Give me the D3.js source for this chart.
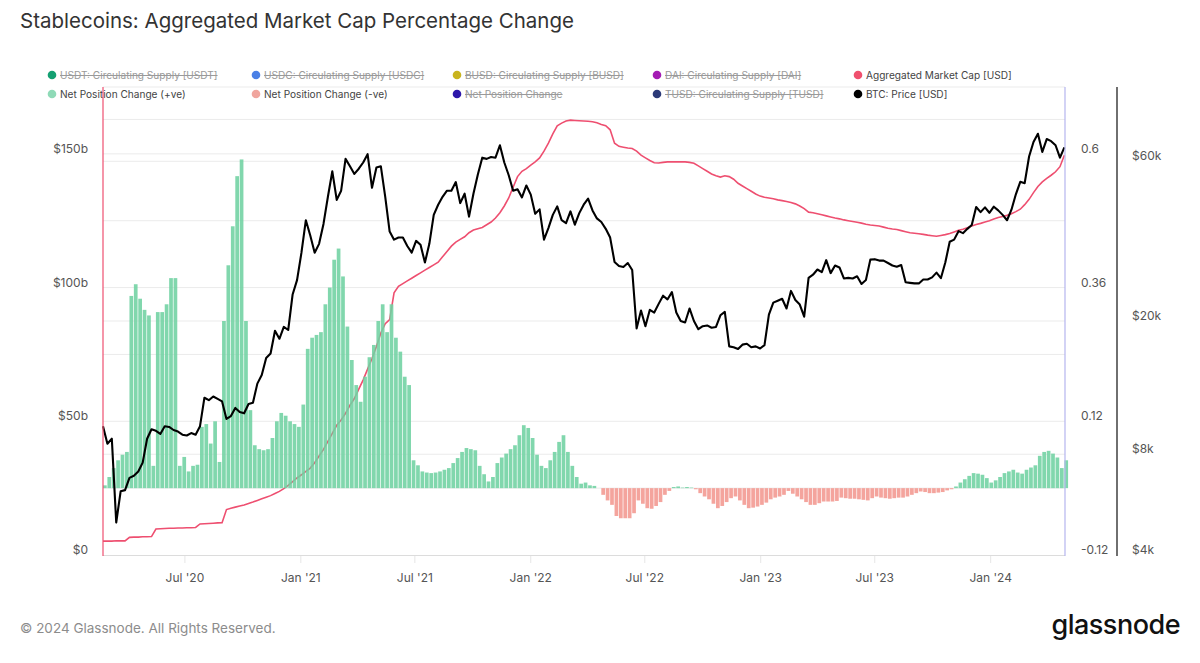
<!DOCTYPE html>
<html><head><meta charset="utf-8">
<script src="https://cdn.jsdelivr.net/npm/d3@7"></script>
<style>
body{margin:0;background:#fff;}
svg{font-family:Inter,"Noto Sans",sans-serif;}
</style></head><body>
<svg id="c" width="1200" height="663"></svg>
<script>
// ---------- DATA (weekly samples, starting 2020-02-22) ----------
const startDate = "2020-02-22";
const endDate = "2024-04-28";
const stepDays = 7;

// BTC: Price [USD]
const btcPrice = [
 9700, 8600, 8900, 5000, 6200, 6250, 6800, 6900, 7100, 7550,
 8900, 9500, 9400, 9200, 9700, 9650, 9450, 9350, 9150, 9100,
 9250, 9150, 9700, 11800, 11600, 11900, 11700, 11500, 10200, 10400,
 11000, 10700, 10600, 11300, 11400, 13000, 13800, 15500, 16000, 18700,
 17700, 19200, 18800, 24000, 26500, 32000, 40000, 36000, 32000, 34000,
 39000, 47000, 56000, 46000, 49000, 61000, 58000, 55000, 57000, 59500,
 63000, 50000, 57500, 58000, 47000, 37000, 35000, 35500, 35500, 33500,
 32000, 34700, 33800, 29900, 34000, 41500, 44500, 47000, 49000, 49000,
 52000, 45000, 48000, 41000, 48000, 54800, 61500, 61000, 61800, 61500,
 67000, 59500, 54500, 49000, 49500, 46800, 50800, 47700, 41800, 43100,
 35000, 37900, 41500, 44000, 40000, 39200, 42500, 38800, 42000, 44500,
 46400, 42800, 40500, 39500, 37700, 35500, 30000, 29200, 29000, 29800,
 28400, 19000, 21500, 19300, 21600, 21200, 22500, 23800, 23200, 24400,
 21200, 20000, 19800, 21800, 20000, 18900, 19300, 19400, 19100, 19200,
 20800, 21300, 16800, 16700, 16500, 17000, 17100, 16700, 16800, 16550,
 16950, 20900, 22700, 23000, 23300, 21800, 24600, 23100, 22400, 20600,
 26900, 27500, 28500, 28000, 30400, 27800, 29300, 28900, 26800, 26900,
 26800, 27200, 25800, 26500, 30500, 30600, 30300, 30300, 29800, 29300,
 29050, 29400, 26100, 26000, 25900, 25900, 26600, 26600, 27000, 27900,
 26850, 29900, 34500, 35000, 37100, 36600, 37700, 38700, 43800, 42300,
 43700, 42100, 43900, 42800, 41500, 40000, 43000, 47800, 52100, 51600,
 62000, 68500, 72500, 64000, 69900, 68900, 67000, 61500, 66000
];

// Aggregated Market Cap [USD], billions
const marketCapB = [
 5.2,5.2,5.2,5.3,5.3,5.3,6.6,6.7,6.7,6.8,
 6.8,6.9,9.7,9.8,9.9,10.0,10.0,10.1,10.1,10.2,
 10.2,10.3,11.6,11.7,11.8,11.9,12.0,12.1,17.0,17.5,
 17.9,18.3,18.7,19.3,19.8,20.4,21.0,21.6,22.2,23.0,
 23.8,24.8,26.0,27.4,28.8,30.0,31.3,32.5,34.5,37.0,
 39.5,42.5,45.5,48.5,50.5,53.0,56.0,58.5,62.0,65.5,
 69.5,73.5,78.0,83.0,86.5,88.0,98.0,100.5,101.5,102.5,
 103.5,104.5,105.5,106.5,107.5,108.5,109.5,111.5,113.5,115.5,
 117,118,119,120.5,121.5,122,122.5,123.5,124.5,126,
 128,130.5,133.5,137.5,141.5,143.5,144.5,145.8,147,148.5,
 151,154,157.5,160.5,161.5,162.3,162.6,162.5,162.4,162.3,
 162.2,162,161.6,161,160.5,159,154,152.8,152.5,152.2,
 152,151,149.5,148.5,147.5,146.7,146.6,146.8,147,147,
 147,147,147,146.8,146.5,145.5,144.5,143.5,142.5,141.8,
 141.3,141.8,141.5,140.5,139,138,137,136,135,134.2,
 133.8,133.5,133.2,132.8,132.5,132.2,131.8,131.3,130.5,129.5,
 128.2,128,127.6,127.2,126.8,126.4,126,125.7,125.3,125,
 124.7,124.4,124.1,123.7,123.4,123.2,123,122.6,122.2,121.9,
 121.7,121.3,120.9,120.5,120.3,120.1,119.9,119.6,119.4,119.2,
 119.5,119.8,120.2,120.8,121.4,121.8,122.4,123,123.6,124,
 124.5,125,125.6,126.2,126.6,127,127.6,128.4,129.3,131,
 133,135.5,137.8,139.5,140.8,142,143.3,145.2,149.5
];

// Net Position Change (30d % change of aggregated market cap)
const netPositionChange = [
 0.005,0.02,0.036,0.05,0.06,0.065,0.345,0.366,0.34,0.32,
 0.31,0.04,0.316,0.316,0.33,0.377,0.377,0.04,0.056,0.03,
 0.04,0.042,0.11,0.115,0.08,0.12,0.047,0.30,0.40,0.47,
 0.56,0.59,0.30,0.14,0.077,0.07,0.068,0.07,0.09,0.12,
 0.135,0.13,0.12,0.115,0.11,0.15,0.25,0.27,0.275,0.28,
 0.33,0.36,0.41,0.43,0.38,0.29,0.23,0.185,0.155,0.2,
 0.235,0.257,0.30,0.33,0.28,0.33,0.27,0.245,0.20,0.185,
 0.05,0.041,0.03,0.028,0.027,0.028,0.03,0.033,0.036,0.045,
 0.054,0.065,0.072,0.07,0.068,0.04,0.025,0.012,0.02,0.045,
 0.055,0.062,0.07,0.077,0.095,0.113,0.108,0.09,0.06,0.04,
 0.036,0.05,0.065,0.083,0.095,0.065,0.04,0.02,0.008,0.01,
 0.005,0.004,0.0,-0.012,-0.022,-0.03,-0.05,-0.054,-0.054,-0.054,
 -0.045,-0.022,-0.028,-0.036,-0.037,-0.032,-0.025,-0.012,-0.005,0.002,
 0.003,0.001,0.002,0.001,-0.002,-0.009,-0.015,-0.02,-0.028,-0.036,
 -0.032,-0.025,-0.018,-0.015,-0.022,-0.03,-0.036,-0.035,-0.033,-0.03,
 -0.026,-0.02,-0.017,-0.015,-0.012,-0.005,-0.01,-0.015,-0.02,-0.025,
 -0.03,-0.03,-0.027,-0.024,-0.024,-0.024,-0.023,-0.017,-0.018,-0.019,
 -0.019,-0.02,-0.021,-0.022,-0.018,-0.015,-0.017,-0.018,-0.019,-0.018,
 -0.017,-0.017,-0.015,-0.012,-0.009,-0.006,-0.007,-0.009,-0.009,-0.008,
 -0.007,-0.004,-0.002,0.003,0.01,0.016,0.022,0.027,0.026,0.024,
 0.018,0.01,0.014,0.02,0.027,0.03,0.033,0.028,0.026,0.033,
 0.037,0.041,0.058,0.065,0.067,0.062,0.055,0.036,0.05
];

// Axis ticks
const leftTicks = [0, 50, 100, 150];            // $b
const leftGrid = [25, 50, 75, 100, 125, 150, 175];
const rightTicks = [-0.12, 0.12, 0.36, 0.6];
const btcTicks = [4000, 8000, 20000, 60000];
const btcGrid = [8000, 20000, 60000, 80000];

// Legend
const legendLabels = [
 ["USDT: Circulating Supply [USDT]", "USDC: Circulating Supply [USDC]", "BUSD: Circulating Supply [BUSD]", "DAI: Circulating Supply [DAI]", "Aggregated Market Cap [USD]"],
 ["Net Position Change (+ve)", "Net Position Change (-ve)", "Net Position Change", "TUSD: Circulating Supply [TUSD]", "BTC: Price [USD]"]
];
const legendActive = [
 [false, false, false, false, true],
 [true, true, false, false, true]
];

// ---------- STYLE ----------
const legendColors = [
 ["#14a072", "#4a80e6", "#c9b41e", "#a41cb4", "#f0506e"],
 ["#8fdab7", "#f0a59e", "#2d17aa", "#2c3a78", "#000000"]
];
const C = {mcap:"#ee4f70", pos:"#6fd2a2", neg:"#f29790", btc:"#000", grid:"#ebebeb"};

const svg = d3.select("#c");
const L = 103, R = 1065, T = 87, B = 555;
const parse = d3.timeParse("%Y-%m-%d");
const t0 = parse(startDate);
const dates = btcPrice.map((_, i) => d3.timeDay.offset(t0, i * stepDays));

const x = d3.scaleTime().domain([parse(startDate), parse(endDate)]).range([L, R]);
const yLeft = d3.scaleLinear().domain([0, 175]).range([B, T]);
const yRight = d3.scaleLinear().domain([-0.12, 0.72]).range([B, T]);
const yBtc = d3.scaleLog().domain([4000, 100000]).range([B, T]);

// Title
svg.append("text").attr("x", 20).attr("y", 28).attr("font-size", 20.5).attr("fill", "#333")
  .text("Stablecoins: Aggregated Market Cap Percentage Change");

// Grid
const g = svg.append("g");
g.selectAll(".gl").data(leftGrid).join("line")
  .attr("x1", L).attr("x2", R).attr("y1", d => yLeft(d)).attr("y2", d => yLeft(d))
  .attr("stroke", C.grid).attr("stroke-width", 1);
g.selectAll(".gb").data(btcGrid).join("line")
  .attr("x1", L).attr("x2", R).attr("y1", d => yBtc(d)).attr("y2", d => yBtc(d))
  .attr("stroke", C.grid).attr("stroke-width", 1);
g.append("line").attr("x1", L).attr("x2", R).attr("y1", B + 0.5).attr("y2", B + 0.5)
  .attr("stroke", "#dcdcdc");

// Legend
legendLabels.forEach((row, r) => {
  const cols = [52, 256, 457, 657, 858];
  row.forEach((lab, c) => {
    const cy = 75 + r * 19;
    const on = legendActive[r][c];
    svg.append("circle").attr("cx", cols[c]).attr("cy", cy).attr("r", 4.3).attr("fill", legendColors[r][c]);
    const t = svg.append("text").attr("x", cols[c] + 8).attr("y", cy + 3.8).attr("font-size", 10.1)
      .attr("fill", on ? "#444" : "#9a9a9a").text(lab);
    if (!on) {
      const w = t.node().getComputedTextLength();
      svg.append("line").attr("x1", cols[c] + 8).attr("x2", cols[c] + 8 + w)
        .attr("y1", cy + 0.5).attr("y2", cy + 0.5).attr("stroke", "#9a9a9a").attr("stroke-width", 1);
    }
  });
});

// Market cap line
const mcapLine = d3.line().x((d, i) => x(dates[i])).y(d => yLeft(d));
svg.append("path").datum(marketCapB).attr("d", mcapLine).attr("fill", "none")
  .attr("stroke", C.mcap).attr("stroke-width", 1.6);

// Bars
const bw = x(d3.timeDay.offset(t0, stepDays)) - x(t0);
svg.append("g").selectAll("rect").data(netPositionChange).join("rect")
  .attr("x", (d, i) => x(dates[i]))
  .attr("width", Math.max(1, bw - 0.7))
  .attr("y", d => d >= 0 ? yRight(d) : yRight(0))
  .attr("height", d => Math.abs(yRight(d) - yRight(0)))
  .attr("fill", d => d >= 0 ? C.pos : C.neg)
  .attr("fill-opacity", 0.88);

// BTC line
const btcLine = d3.line().x((d, i) => x(dates[i])).y(d => yBtc(d));
svg.append("path").datum(btcPrice).attr("d", btcLine).attr("fill", "none")
  .attr("stroke", C.btc).attr("stroke-width", 2.1).attr("stroke-linejoin", "round");

// Axis lines
svg.append("line").attr("x1", L).attr("x2", L).attr("y1", T).attr("y2", B + 1).attr("stroke", C.mcap).attr("stroke-width", 1.2);
svg.append("line").attr("x1", R).attr("x2", R).attr("y1", T).attr("y2", B + 1).attr("stroke", "#b5b5ee").attr("stroke-width", 1.2);
svg.append("line").attr("x1", 1117).attr("x2", 1117).attr("y1", T).attr("y2", B + 1).attr("stroke", "#222").attr("stroke-width", 1.3);

// Left labels
svg.selectAll(".ll").data(leftTicks).join("text")
  .attr("x", 88).attr("y", d => yLeft(d) - 1).attr("text-anchor", "end")
  .attr("font-size", 12).attr("fill", "#555").text(d => d === 0 ? "$0" : "$" + d + "b");
// Right labels
svg.selectAll(".rl").data(rightTicks).join("text")
  .attr("x", 1081).attr("y", d => yRight(d) - 1)
  .attr("font-size", 12).attr("fill", "#555").text(d => String(d));
// BTC labels
svg.selectAll(".bl").data(btcTicks).join("text")
  .attr("x", 1132).attr("y", d => yBtc(d) - 1)
  .attr("font-size", 12).attr("fill", "#555").text(d => "$" + (d / 1000) + "k");

// X axis
const xt = x.ticks(d3.timeMonth.every(6)).filter(d => d >= x.domain()[0] && d <= x.domain()[1]);
svg.selectAll(".xt").data(xt).join("line")
  .attr("x1", d => x(d)).attr("x2", d => x(d)).attr("y1", B + 1).attr("y2", B + 8)
  .attr("stroke", "#e6e6e6");
svg.selectAll(".xl").data(xt).join("text")
  .attr("x", d => x(d)).attr("y", 582).attr("text-anchor", "middle")
  .attr("font-size", 12).attr("fill", "#555").text(d => d3.timeFormat("%b '%y")(d));

// Footer
svg.append("text").attr("x", 20).attr("y", 633).attr("font-size", 13.5).attr("fill", "#8c8c8c")
  .text("© 2024 Glassnode. All Rights Reserved.");
svg.append("text").attr("x", 1180).attr("y", 634).attr("text-anchor", "end").attr("font-size", 27)
  .attr("font-weight", 500).attr("letter-spacing", -0.5).attr("fill", "#111").text("glassnode");
</script>
</body></html>
